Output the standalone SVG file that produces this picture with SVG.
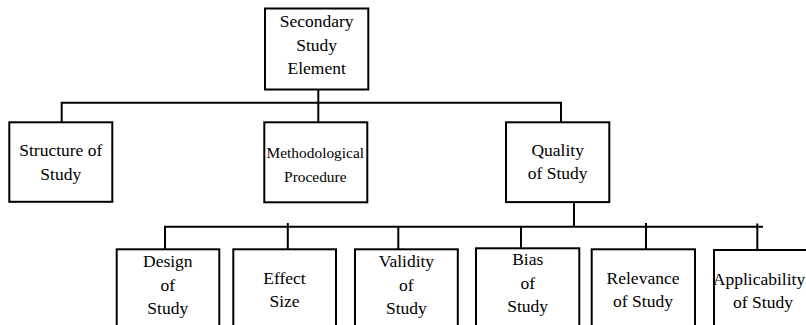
<svg xmlns="http://www.w3.org/2000/svg" width="806" height="325" viewBox="0 0 806 325">
  <style>
    .box { fill: #ffffff; stroke: #000000; stroke-width: 2; }
    .link { fill: none; stroke: #000000; stroke-width: 2; }
  </style>
  <rect width="806" height="325" fill="#ffffff"/>

  <!-- connectors -->
  <g id="connectors">
    <path class="link" d="M318.3 89.5 V102.8 M61.7 102.8 H561 M61.7 101.8 V122.3 M318.3 102.8 V122.3 M561 101.8 V122.3"/>
    <path class="link" d="M574 202 V226.7 M165 226.7 H763 M165 225.7 V249 M287.8 223 V249 M398.3 226.7 V249 M521 226.7 V248.3 M646 223 V249 M757.3 223.5 V250"/>
  </g>

  <g font-family="Liberation Serif, serif" font-size="17.5" fill="#000000" text-anchor="middle">
    <g id="secondary-study-element">
      <rect class="box" x="265" y="8.5" width="103.3" height="81"/>
      <text x="316.7" y="27.3">Secondary</text>
      <text x="316.7" y="50.7">Study</text>
      <text x="316.7" y="74">Element</text>
    </g>

    <g id="structure-of-study">
      <rect class="box" x="9.3" y="122.3" width="103" height="79.5"/>
      <text x="60.8" y="155.7">Structure of</text>
      <text x="60.8" y="180">Study</text>
    </g>

    <g id="methodological-procedure" font-size="15.4">
      <rect class="box" x="264.3" y="122.3" width="103" height="80"/>
      <text x="315.3" y="157.7">Methodological</text>
      <text x="315.3" y="181.7">Procedure</text>
    </g>

    <g id="quality-of-study">
      <rect class="box" x="506" y="122.3" width="103.3" height="79.8"/>
      <text x="557.7" y="155.7">Quality</text>
      <text x="557.7" y="179.3">of Study</text>
    </g>

    <g id="design-of-study">
      <rect class="box" x="116.7" y="249.3" width="102.6" height="95"/>
      <text x="167.8" y="266.7">Design</text>
      <text x="167.8" y="290.7">of</text>
      <text x="167.8" y="314.3">Study</text>
    </g>

    <g id="effect-size">
      <rect class="box" x="233.3" y="249.3" width="102.7" height="95"/>
      <text x="284.5" y="284">Effect</text>
      <text x="284.5" y="307.3">Size</text>
    </g>

    <g id="validity-of-study">
      <rect class="box" x="355" y="249.3" width="102.8" height="95"/>
      <text x="406.4" y="266.7">Validity</text>
      <text x="406.4" y="290.7">of</text>
      <text x="406.4" y="314.3">Study</text>
    </g>

    <g id="bias-of-study">
      <rect class="box" x="476" y="248.3" width="103.3" height="95"/>
      <text x="527.7" y="265">Bias</text>
      <text x="527.7" y="289">of</text>
      <text x="527.7" y="312.3">Study</text>
    </g>

    <g id="relevance-of-study">
      <rect class="box" x="591.7" y="249.3" width="103.3" height="95"/>
      <text x="643" y="284">Relevance</text>
      <text x="643" y="307.3">of Study</text>
    </g>

    <g id="applicability-of-study">
      <rect class="box" x="714" y="250" width="103.3" height="95"/>
      <text x="759" y="285">Applicability</text>
      <text x="763" y="308.3">of Study</text>
    </g>
  </g>
</svg>
